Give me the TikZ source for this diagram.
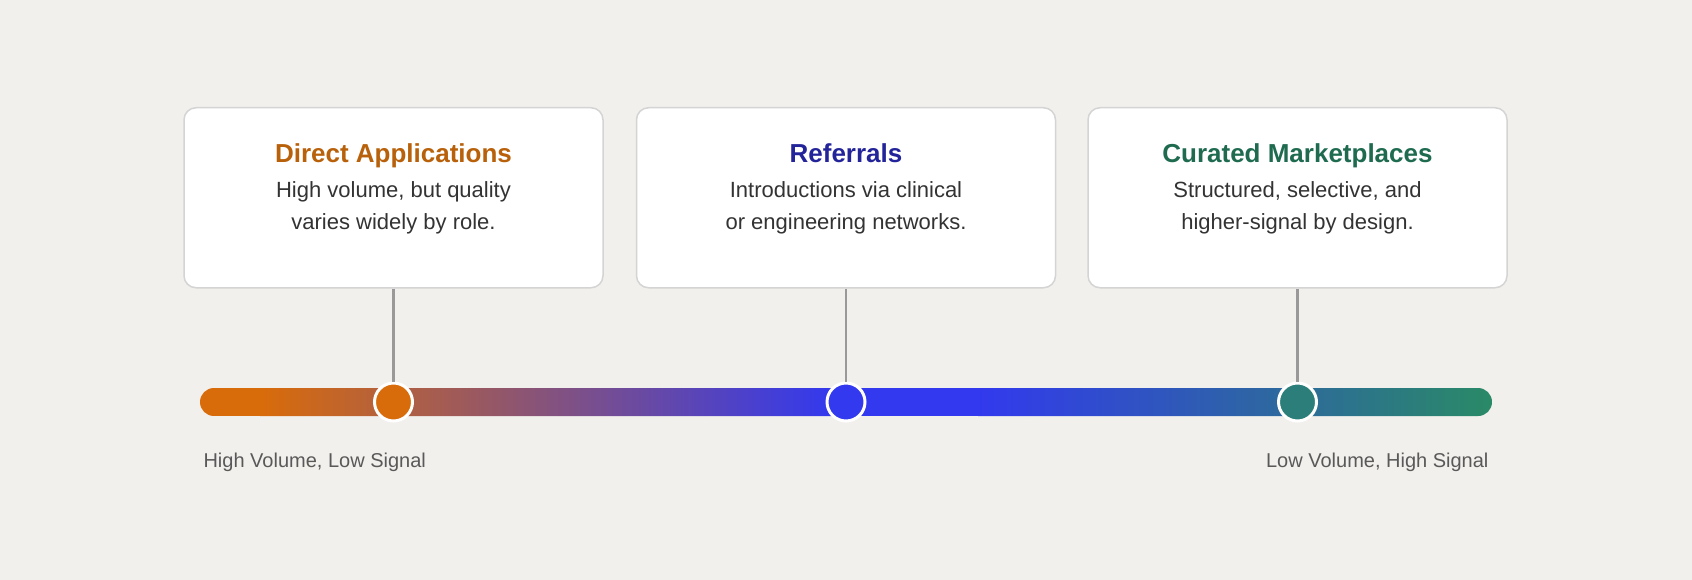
\documentclass[tikz,border=0pt]{standalone}
\usepackage{fontspec}
\setmainfont{Liberation Sans}
\definecolor{bg}{HTML}{F2F0EC}
\definecolor{cor}{HTML}{D96C0A}
\definecolor{cbl}{HTML}{3239EE}
\definecolor{cgr}{HTML}{2A8A66}
\definecolor{tor}{HTML}{B8610A}
\definecolor{tbl}{HTML}{24249A}
\definecolor{tgr}{HTML}{1F6B50}
\begin{document}
\begin{tikzpicture}[x=1pt,y=-1pt,
 card/.style={draw=black!17,line width=1.5pt,fill=white,rounded corners=12pt,minimum width=419pt,minimum height=180pt,anchor=north,inner sep=0pt},
 ttl/.style={font=\bfseries\fontsize{26}{30}\selectfont,anchor=base},
 body/.style={font=\fontsize{22}{32}\selectfont,text=black!80,align=center,anchor=north},
 stem/.style={draw=black!40,line width=2.5pt},
 dot/.style={circle,draw=white,line width=3pt,minimum size=38pt,inner sep=0pt},
 lab/.style={font=\fontsize{20}{24}\selectfont,text=black!65,anchor=base}]
\fill[bg] (0,0) rectangle (1692,580);
\useasboundingbox (0,0) rectangle (1692,580);
\node[card] (c1) at (393.5,107) {};
\node[card] (c2) at (846,107) {};
\node[card] (c3) at (1297.5,107) {};
\node[ttl,text=tor] (t1) at (393.5,163) {Direct Applications};
\node[ttl,text=tbl] (t2) at (846,163) {Referrals};
\node[ttl,text=tgr] (t3) at (1297.5,163) {Curated Marketplaces};
\node[body] (b1) at (393.5,178) {High volume, but quality\\varies widely by role.};
\node[body] (b2) at (846,178) {Introductions via clinical\\or engineering networks.};
\node[body] (b3) at (1297.5,178) {Structured, selective, and\\higher-signal by design.};
\begin{scope}
\clip[rounded corners=14pt] (200,388) rectangle (1492,416);
\fill[cor] (200,388) rectangle (262,416);
\shade[left color=cor,right color=cbl] (260,388) rectangle (832,416);
\fill[cbl] (830,388) rectangle (980,416);
\shade[left color=cbl,right color=cgr] (978,388) rectangle (1492,416);
\end{scope}
\node[dot,fill=cor] (d1) at (393.5,402) {};
\node[dot,fill=cbl] (d2) at (846,402) {};
\node[dot,fill=cgr!85!cbl] (d3) at (1297.5,402) {};
\draw[stem] (c1.south) -- (d1.north);
\draw[stem] (c2.south) -- (d2.north);
\draw[stem] (c3.south) -- (d3.north);
\node[lab,anchor=base west] (l1) at (200,467) {High Volume, Low Signal};
\node[lab,anchor=base east] (l2) at (1492,467) {Low Volume, High Signal};
\end{tikzpicture}
\end{document}
